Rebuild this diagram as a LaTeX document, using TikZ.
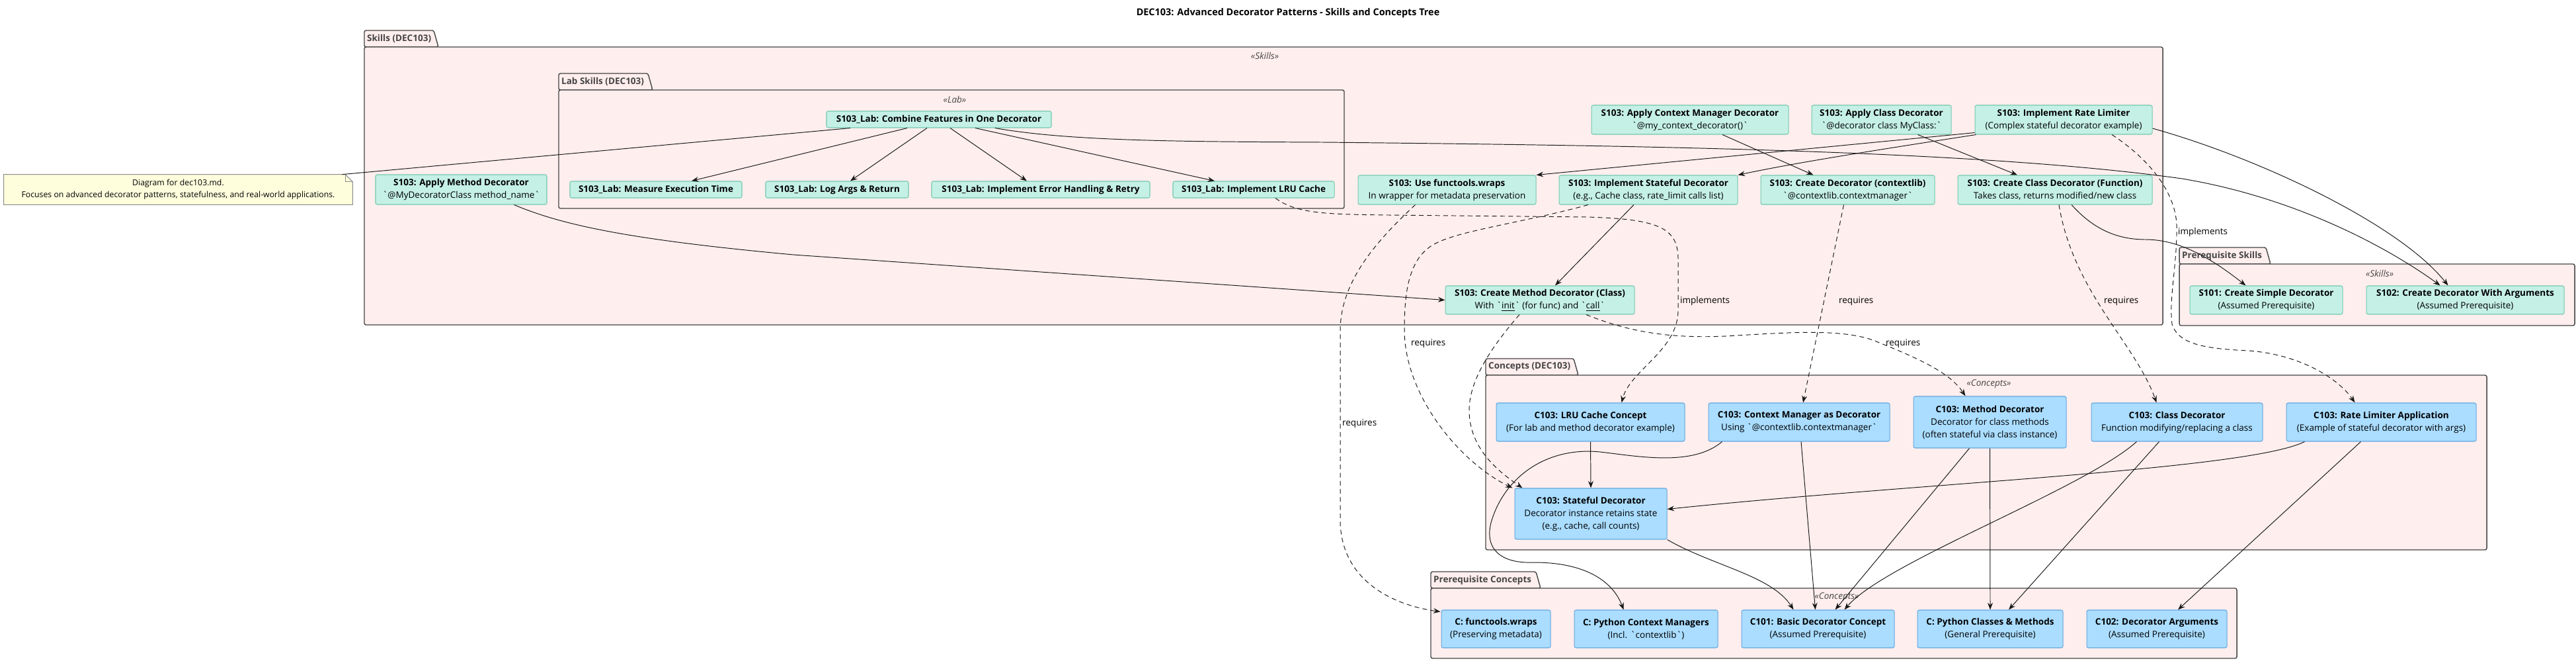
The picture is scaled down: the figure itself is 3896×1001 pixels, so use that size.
\documentclass[tikz,border=0pt]{standalone}
\usepackage{fontspec}
\setmainfont{Open Sans}
\usetikzlibrary{arrows.meta, calc, positioning}
\definecolor{pkfill}{HTML}{FFEEEE}
\definecolor{pkline}{HTML}{454545}
\definecolor{skfill}{HTML}{C5F0E6}
\definecolor{skline}{HTML}{72C9AE}
\definecolor{cpfill}{HTML}{AADDFF}
\definecolor{cpline}{HTML}{64A6DE}
\definecolor{ntfill}{HTML}{FEFEDD}
\definecolor{ntline}{HTML}{8C8C8C}
\definecolor{lnc}{HTML}{181818}
\newlength{\upx}\setlength{\upx}{0.02cm}
\newcommand{\bq}{\textasciigrave}
\newcommand{\txt}{\fontsize{7.7}{10.8}\selectfont}
\tikzset{
  skl/.style 2 args = {rectangle, rounded corners=1.5pt, draw=skline, fill=skfill,
                 line width=0.6pt, minimum width=#1\upx, minimum height=#2\upx,
                 inner sep=1pt, font=\txt, align=center},
  cpt/.style 2 args = {rectangle, rounded corners=1.5pt, draw=cpline, fill=cpfill,
                 line width=0.6pt, minimum width=#1\upx, minimum height=#2\upx,
                 inner sep=1pt, font=\txt, align=center},
  nte/.style  = {rectangle, minimum width=527\upx, minimum height=45\upx,
                 inner sep=1pt, font=\fontsize{7}{10.2}\selectfont, align=center},
  pkg/.style  = {draw=pkline, fill=pkfill, line width=0.8pt, rounded corners=1.5pt},
  pktab/.style= {font=\txt\bfseries, text=pkline, inner sep=1pt},
  stereo/.style={font=\txt\itshape, text=pkline, inner sep=1pt},
  elbl/.style = {font=\txt, inner sep=1pt, anchor=west},
  arr/.style  = {-{Stealth[length=6pt, width=4.5pt, inset=2pt]}, line width=0.55pt, draw=lnc},
  darr/.style = {arr, dash pattern=on 4pt off 3pt},
  lnk/.style  = {line width=0.55pt, draw=lnc},
}

\begin{document}
\begin{tikzpicture}[x=0.02cm, y=-0.02cm]
  \useasboundingbox (0,0) rectangle (3896,1001);

  \node[font=\fontsize{8.2}{10}\selectfont\bfseries] (title) at (1948,20)
    {DEC103: Advanced Decorator Patterns - Skills and Concepts Tree};

  % packages
  \foreach \xl/\yt/\xt/\yb/\xr/\yr/\lbl/\sx/\sy/\st [count=\k] in
    {551/46/663/71/3271/491/{Skills (DEC103)}/1913/84/Skills,
     845/111/987/136/2033/315/{Lab Skills (DEC103)}/1444/150/Lab,
     3296/374/3434/399/3894/492/{Prerequisite Skills}/3599/413/Skills,
     2247/542/2387/567/3761/831/{Concepts (DEC103)}/3008/580/Concepts,
     2164/864/2330/889/3383/995/{Prerequisite Concepts}/2778/902/Concepts}
  {
    \filldraw[pkg] (\xl,\yb) -- (\xl,\yt) -- (\xt-7,\yt) -- (\xt,\yb) -- cycle;
    \filldraw[pkg] (\xl,\yb) rectangle (\xr,\yr);
    \node[pktab, anchor=west] (pkt\k) at (\xl+2,{(\yt+\yb)/2}) {\lbl};
    \node[stereo] (pks\k) at (\sx,\sy) {«\st»};
  }

  % note
  \node[nte] (note) at (269.5,286.5) {};
  \filldraw[draw=ntline, fill=ntfill, line width=0.6pt]
    (note.north west) -- ($(note.north east)+(-11,0)$) -- ($(note.north east)+(0,11)$)
    -- (note.south east) -- (note.south west) -- cycle;
  \draw[draw=ntline, line width=0.6pt]
    ($(note.north east)+(-11,0)$) -- ($(note.north east)+(-11,11)$) -- ($(note.north east)+(0,11)$);
  \node[nte] (notetxt) at (note) {Diagram for dec103.md.\\Focuses on advanced decorator patterns, statefulness, and real-world applications.};

  % lab skills
  \node[skl={340}{25}] (lcomb) at (1420,180.5) {\textbf{S103\_Lab: Combine Features in One Decorator}};
  \node[skl={260}{25}] (lmeas) at (992,286.5) {\textbf{S103\_Lab: Measure Execution Time}};
  \node[skl={216}{25}] (llog)  at (1266,286.5) {\textbf{S103\_Lab: Log Args \& Return}};
  \node[skl={330}{25}] (lerr)  at (1574,286.5) {\textbf{S103\_Lab: Implement Error Handling \& Retry}};
  \node[skl={244}{25}] (llru)  at (1896,286.5) {\textbf{S103\_Lab: Implement LRU Cache}};

  % skills
  \node[skl={259}{45}] (sapplymeth) at (697.5,286.5) {\textbf{S103: Apply Method Decorator}\\\bq{}@MyDecoratorClass method\_name\bq};
  \node[skl={298}{44}] (sapplyctx) at (2556,181) {\textbf{S103: Apply Context Manager Decorator}\\\bq{}@my\_context\_decorator()\bq};
  \node[skl={211}{44}] (sapplycls) at (2845.5,181) {\textbf{S103: Apply Class Decorator}\\\bq{}@decorator class MyClass:\bq};
  \node[skl={268}{44}] (srate) at (3121,181) {\textbf{S103: Implement Rate Limiter}\\(Complex stateful decorator example)};
  \node[skl={269}{44}] (swraps) at (2188.5,287) {\textbf{S103: Use functools.wraps}\\In wrapper for metadata preservation};
  \node[skl={270}{44}] (sstate) at (2493,287) {\textbf{S103: Implement Stateful Decorator}\\(e.g., Cache class, rate\_limit calls list)};
  \node[skl={263}{44}] (sctxlib) at (2794.5,287) {\textbf{S103: Create Decorator (contextlib)}\\\bq{}@contextlib.contextmanager\bq};
  \node[skl={294}{44}] (sclsfn) at (3108,287) {\textbf{S103: Create Class Decorator (Function)}\\Takes class, returns modified/new class};
  \node[skl={286}{43}] (smeth) at (2329,453.5) {\textbf{S103: Create Method Decorator (Class)}\\With \bq\underline{init}\bq{} (for func) and \bq\underline{call}\bq};
  \node[skl={231}{43}] (s101) at (3427.5,453.5) {\textbf{S101: Create Simple Decorator}\\(Assumed Prerequisite)};
  \node[skl={299}{43}] (s102) at (3728.5,453.5) {\textbf{S102: Create Decorator With Arguments}\\(Assumed Prerequisite)};

  % concepts
  \node[cpt={285}{58}] (clru) at (2405.5,638) {\textbf{C103: LRU Cache Concept}\\(For lab and method decorator example)};
  \node[cpt={274}{58}] (cctx) at (2721,638) {\textbf{C103: Context Manager as Decorator}\\Using \bq{}@contextlib.contextmanager\bq};
  \node[cpt={231}{78}] (cmeth) at (3009.5,638) {\textbf{C103: Method Decorator}\\Decorator for class methods\\(often stateful via class instance)};
  \node[cpt={259}{58}] (ccls) at (3292.5,638) {\textbf{C103: Class Decorator}\\Function modifying/replacing a class};
  \node[cpt={287}{58}] (crate) at (3601.5,638) {\textbf{C103: Rate Limiter Application}\\(Example of stateful decorator with args)};
  \node[cpt={230}{77}] (cstate) at (2406,776.5) {\textbf{C103: Stateful Decorator}\\Decorator instance retains state\\(e.g., cache, call counts)};
  \node[cpt={165}{57}] (pwraps) at (2262.5,950.5) {\textbf{C: functools.wraps}\\(Preserving metadata)};
  \node[cpt={217}{57}] (pctx) at (2489.5,950.5) {\textbf{C: Python Context Managers}\\(Incl. \bq{}contextlib\bq)};
  \node[cpt={231}{57}] (c101) at (2749.5,950.5) {\textbf{C101: Basic Decorator Concept}\\(Assumed Prerequisite)};
  \node[cpt={220}{57}] (pcls) at (3010,950.5) {\textbf{C: Python Classes \& Methods}\\(General Prerequisite)};
  \node[cpt={212}{57}] (c102) at (3262,950.5) {\textbf{C102: Decorator Arguments}\\(Assumed Prerequisite)};

  % skill links
  \draw[lnk] ($(note.north east)+(-16,0)$) -- ($(lcomb.south)+(-134,0)$);
  \foreach \dx/\b/\db in {-48/lmeas/54, -18/llog/20, 17/lerr/-21, 55/llru/-59}
    \draw[arr] ($(lcomb.south)+(\dx,0)$) -- ($(\b.north)+(\db,0)$);
  \foreach \a/\da/\b/\db in {sapplyctx/49/sctxlib/-52, sapplycls/55/sclsfn/-57, sstate/-22/smeth/23}
    \draw[arr] ($(\a.south)+(\da,0)$) -- ($(\b.north)+(\db,0)$);
  \draw[arr] ($(lcomb.south)+(85,0)$) .. controls (1620,214) and (1800,214) .. (2000,215)
    .. controls (2500,220) and (3000,228) .. (3300,270)
    .. controls (3480,300) and (3620,380) .. ($(s102.north)+(-38,0)$);
  \draw[arr] ($(sapplymeth.south)+(80,0)$) .. controls (850,340) and (950,362) .. (1200,385) -- (smeth.west);
  \draw[arr] ($(srate.south west)+(0,-3)$) -- (swraps.north east);
  \draw[arr] ($(srate.south west)+(2,0)$) .. controls (2850,225) and (2720,245) .. (sstate.north east);
  \draw[arr] ($(sclsfn.south)+(25,0)$) .. controls (3165,345) and (3200,362) .. (3245,362)
    .. controls (3300,362) and (3350,395) .. ($(s101.north)+(-31,0)$);
  \draw[arr] ($(srate.east)+(0,13)$) .. controls (3420,240) and (3630,340) .. ($(s102.north)+(-26,0)$);

  % skill -> concept
  \draw[darr] ($(llru.south)+(33,0)$) .. controls (1960,322) and (2000,324) .. (2100,325) -- (2400,328)
    .. controls (2510,331) and (2537,345) .. (2538,390) -- (2538,470)
    .. controls (2537,530) and (2465,560) .. ($(clru.north)+(47,0)$);
  \draw[darr] ($(swraps.south)+(-48,0)$) .. controls (2075,370) and (2027,430) .. (2027,500) -- (2027,790)
    .. controls (2030,880) and (2110,915) .. ($(pwraps.north west)+(-1,3)$);
  \draw[darr] ($(sstate.south)+(-91,0)$) .. controls (2290,340) and (2190,350) .. (2160,375)
    .. controls (2128,400) and (2124,450) .. (2124,500)
    .. controls (2125,600) and (2210,700) .. ($(cstate.north west)+(-3,0)$);
  \draw[darr] ($(smeth.south)+(-31,0)$) .. controls (2255,525) and (2222,575) .. (2222,620)
    .. controls (2222,680) and (2270,715) .. ($(cstate.north west)+(12,0)$);
  \draw[darr] ($(smeth.south)+(70,0)$) .. controls (2460,500) and (2520,512) .. (2610,508)
    .. controls (2700,503) and (2790,495) .. (2840,517)
    .. controls (2910,545) and (2950,565) .. ($(cmeth.north)+(-37,0)$);
  \draw[darr] ($(sctxlib.south)+(-6,0)$) -- ($(cctx.north)+(6,0)$);
  \draw[darr] ($(sclsfn.south)+(6,0)$) .. controls (3135,440) and (3230,520) .. ($(ccls.north)+(-31,0)$);
  \draw[darr] ($(srate.south)+(73,0)$) .. controls (3250,240) and (3290,290) .. (3292,340)
    .. controls (3293,400) and (3280,450) .. (3285,490)
    .. controls (3295,522) and (3340,527) .. (3400,530)
    .. controls (3475,535) and (3535,570) .. ($(crate.north)+(-40,0)$);

  \node[elbl] (lb1) at (2539,455) {implements};
  \node[elbl] (lb2) at (2779,455) {requires};
  \node[elbl] (lb3) at (3180,455) {requires};
  \node[elbl] (lb4) at (3292,351) {implements};
  \node[elbl] (lb5) at (2028,640) {requires};
  \node[elbl] (lb6) at (2132,519) {requires};
  \node[elbl] (lb7) at (2850,519) {requires};

  % concept links
  \foreach \a/\da/\b/\db in {clru/0/cstate/0, cctx/3/c101/-4, cmeth/-31/c101/26,
                             cmeth/0/pcls/0, ccls/-27/pcls/28, crate/-31/c102/32}
    \draw[arr] ($(\a.south)+(\da,0)$) -- ($(\b.north)+(\db,0)$);
  \draw[arr] ($(crate.south west)+(28,0)$) .. controls (3400,710) and (2900,730) .. ($(cstate.east)+(0,-7)$);
  \draw[arr] ($(cctx.south west)+(21,0)$) .. controls (2560,705) and (2480,690) .. (2420,683)
    .. controls (2340,675) and (2275,720) .. (2255,790)
    .. controls (2245,830) and (2270,852) .. (2320,850)
    .. controls (2400,850) and (2440,880) .. ($(pctx.north)+(-34,0)$);
  \draw[arr] (cstate.south east) .. controls (2590,855) and (2680,870) .. ($(c101.north)+(-37,0)$);
  \draw[arr] ($(ccls.south)+(-61,0)$) .. controls (3150,740) and (2850,850) .. ($(c101.north)+(40,0)$);

\end{tikzpicture}
\end{document}
